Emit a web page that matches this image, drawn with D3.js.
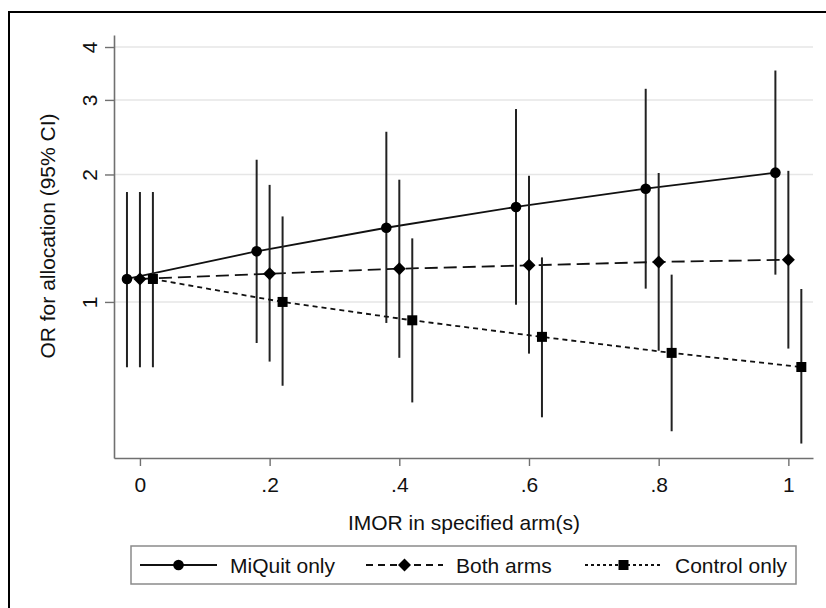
<!DOCTYPE html>
<html>
<head>
<meta charset="utf-8">
<script src="https://cdn.jsdelivr.net/npm/d3@7"></script>
<style>
  body { margin: 0; background: #fff; }
  text { font-family: "Liberation Sans", Arial, sans-serif; fill: #111; }
</style>
</head>
<body>
<script>
// IMOR values (x) and odds ratios with 95% CI
const imor = [0, 0.2, 0.4, 0.6, 0.8, 1];
const xTickLabels = ["0", ".2", ".4", ".6", ".8", "1"];
const yTicks = [1, 2, 3, 4];

const miquitOR = [1.133, 1.317, 1.497, 1.676, 1.851, 2.02];
const miquitLo = [0.701, 0.80, 0.892, 0.985, 1.075, 1.16];
const miquitHi = [1.818, 2.167, 2.523, 2.855, 3.187, 3.52];

const bothOR = [1.133, 1.166, 1.198, 1.22, 1.243, 1.258];
const bothLo = [0.701, 0.723, 0.738, 0.755, 0.767, 0.776];
const bothHi = [1.818, 1.89, 1.944, 1.986, 2.016, 2.04];

const controlOR = [1.133, 1.0, 0.905, 0.827, 0.758, 0.702];
const controlLo = [0.701, 0.634, 0.579, 0.534, 0.495, 0.463];
const controlHi = [1.818, 1.592, 1.413, 1.274, 1.16, 1.073];

const seriesNames = ["MiQuit only", "Both arms", "Control only"];

(function() {
    const width = 826;
    const height = 608;
    const fontSize = "21px";

    // horizontal jitter so the CIs don't sit on top of each other
    const series = [
        { name: seriesNames[0], or: miquitOR, lo: miquitLo, hi: miquitHi, shift: -0.02, dash: null, legDash: null, marker: "circle" },
        { name: seriesNames[1], or: bothOR, lo: bothLo, hi: bothHi, shift: 0, dash: "13,6", legDash: "7,5", marker: "diamond" },
        { name: seriesNames[2], or: controlOR, lo: controlLo, hi: controlHi, shift: 0.02, dash: "5,4", legDash: "3,3", marker: "square" }
    ];

    const svg = d3.select("body").append("svg")
        .attr("width", width)
        .attr("height", height);

    // outer frame
    svg.append("rect")
        .attr("x", 9).attr("y", 12)
        .attr("width", 900).attr("height", 700)
        .attr("fill", "none")
        .attr("stroke", "#000")
        .attr("stroke-width", 2);

    const x = d3.scaleLinear().domain([-0.04, 1.038]).range([114, 813]);
    const y = d3.scaleLog().domain([0.428, 4.27]).range([458, 35]);

    // gridlines
    svg.append("g")
        .selectAll("line")
        .data(yTicks)
        .join("line")
        .attr("x1", 114).attr("x2", 813)
        .attr("y1", d => y(d)).attr("y2", d => y(d))
        .attr("stroke", "#e6e6e6")
        .attr("stroke-width", 1.5);

    // y axis
    const yAxis = svg.append("g")
        .attr("transform", "translate(114,0)")
        .call(d3.axisLeft(y).tickValues(yTicks).tickFormat(d3.format("d")).tickSize(9).tickSizeOuter(0));
    yAxis.select(".domain").attr("stroke", "#707070").attr("stroke-width", 1.6);
    yAxis.selectAll(".tick line").attr("stroke", "#707070").attr("stroke-width", 1.4);
    yAxis.selectAll(".tick text")
        .attr("transform", "rotate(-90)")
        .attr("x", 0).attr("y", -17).attr("dy", 0)
        .attr("text-anchor", "middle")
        .style("font-size", fontSize)
        .style("font-family", "'Liberation Sans', Arial, sans-serif")
        .attr("fill", "#111");

    // x axis
    const xAxis = svg.append("g")
        .attr("transform", "translate(0,458)")
        .call(d3.axisBottom(x).tickValues(imor).tickFormat((d, i) => xTickLabels[i]).tickSize(8).tickSizeOuter(0));
    xAxis.select(".domain").attr("stroke", "#707070").attr("stroke-width", 1.6);
    xAxis.selectAll(".tick line").attr("stroke", "#707070").attr("stroke-width", 1.4);
    xAxis.selectAll(".tick text")
        .attr("y", 19).attr("dy", "0.71em")
        .style("font-size", fontSize)
        .style("font-family", "'Liberation Sans', Arial, sans-serif")
        .attr("fill", "#111");

    // axis titles
    svg.append("text")
        .attr("x", 464).attr("y", 530)
        .attr("text-anchor", "middle")
        .style("font-size", fontSize)
        .text("IMOR in specified arm(s)");

    svg.append("text")
        .attr("transform", "translate(55,236) rotate(-90)")
        .attr("text-anchor", "middle")
        .style("font-size", fontSize)
        .text("OR for allocation (95% CI)");

    const diamond = "M0,-6.5L6.5,0L0,6.5L-6.5,0Z";

    function drawMarker(sel, kind) {
        if (kind === "circle") {
            sel.append("circle").attr("r", 5.3).attr("fill", "#000");
        } else if (kind === "diamond") {
            sel.append("path").attr("d", diamond).attr("fill", "#000");
        } else {
            sel.append("rect").attr("x", -5).attr("y", -5).attr("width", 10).attr("height", 10).attr("fill", "#000");
        }
    }

    const plot = svg.append("g");

    series.forEach(s => {
        const pts = imor.map((v, i) => ({ x: v + s.shift, or: s.or[i], lo: s.lo[i], hi: s.hi[i] }));

        // CI spikes
        plot.append("g")
            .selectAll("line")
            .data(pts)
            .join("line")
            .attr("x1", d => x(d.x)).attr("x2", d => x(d.x))
            .attr("y1", d => y(d.lo)).attr("y2", d => y(d.hi))
            .attr("stroke", "#222")
            .attr("stroke-width", 2);

        // connecting line
        plot.append("path")
            .datum(pts)
            .attr("fill", "none")
            .attr("stroke", "#111")
            .attr("stroke-width", 1.8)
            .attr("stroke-dasharray", s.dash)
            .attr("d", d3.line().x(d => x(d.x)).y(d => y(d.or)));

        // markers
        plot.append("g")
            .selectAll("g")
            .data(pts)
            .join("g")
            .attr("transform", d => `translate(${x(d.x)},${y(d.or)})`)
            .each(function() { drawMarker(d3.select(this), s.marker); });
    });

    // legend
    const legend = svg.append("g");
    legend.append("rect")
        .attr("x", 131).attr("y", 546)
        .attr("width", 665).attr("height", 38)
        .attr("fill", "#fff")
        .attr("stroke", "#8a8a8a")
        .attr("stroke-width", 1.5);

    const legX = [140, 366, 585];
    series.forEach((s, i) => {
        const g = legend.append("g").attr("transform", `translate(${legX[i]},565)`);
        g.append("line")
            .attr("x1", 0).attr("x2", 77)
            .attr("stroke", "#111")
            .attr("stroke-width", 1.8)
            .attr("stroke-dasharray", s.legDash);
        const m = g.append("g").attr("transform", "translate(38.5,0)");
        drawMarker(m, s.marker);
        g.append("text")
            .attr("x", 90).attr("dy", "0.36em")
            .style("font-size", fontSize)
            .text(s.name);
    });
})();
</script>
</body>
</html>
